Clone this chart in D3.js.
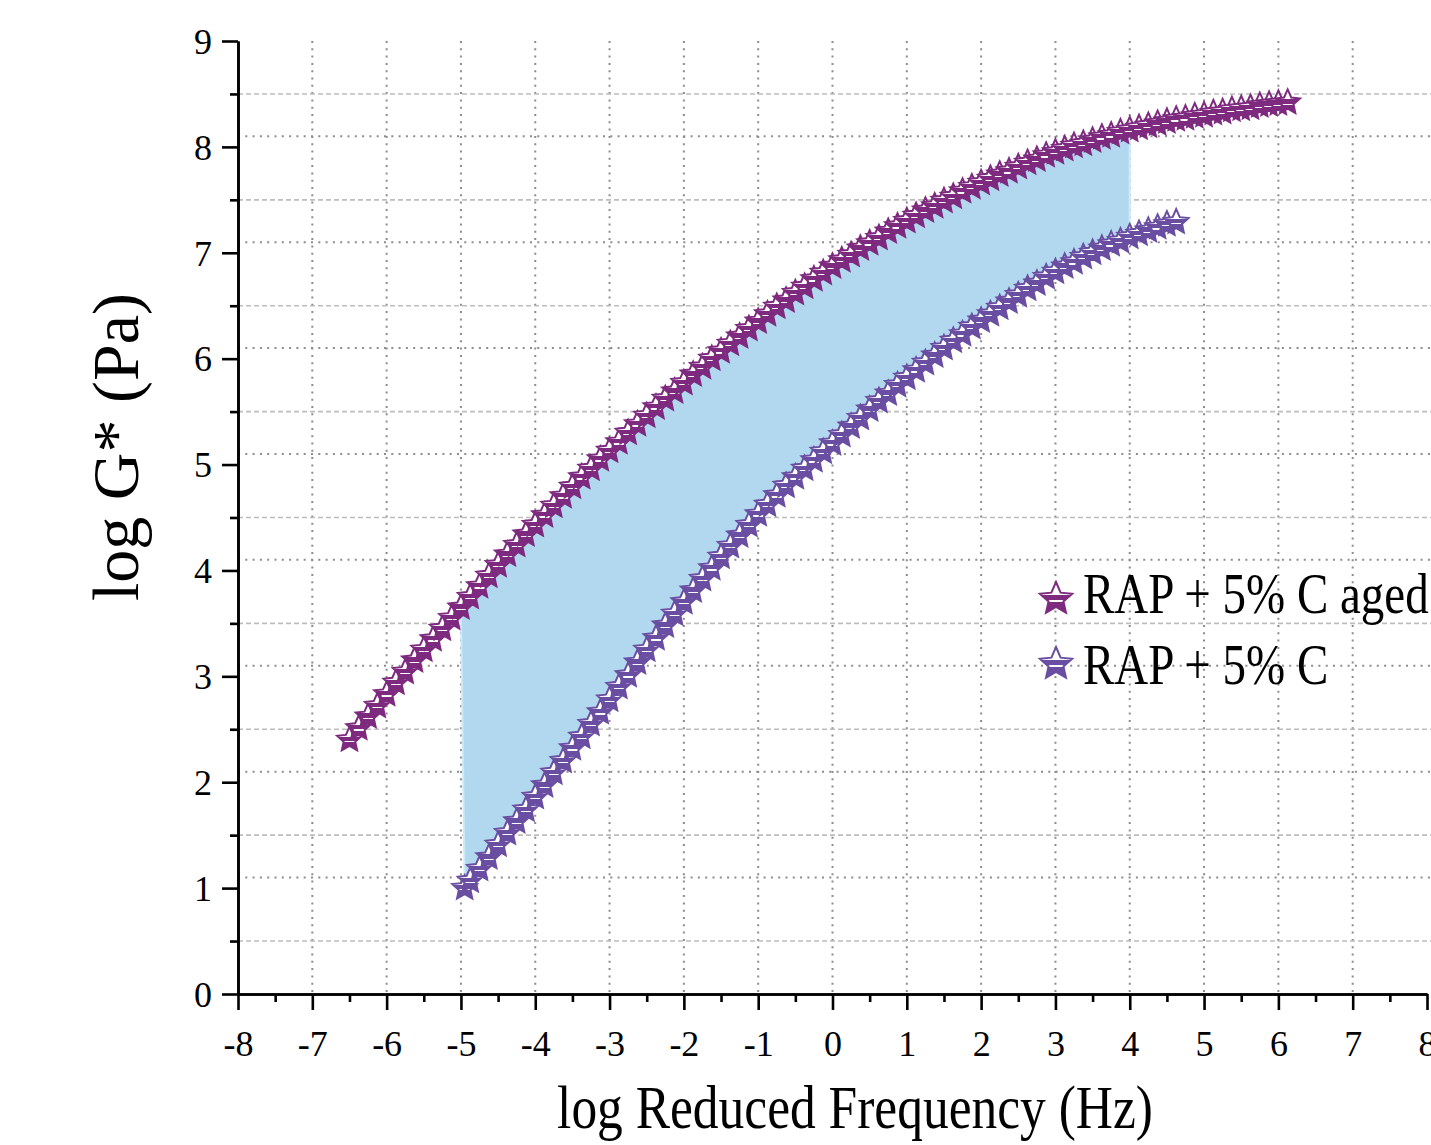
<!DOCTYPE html>
<html>
<head>
<meta charset="utf-8">
<script src="https://cdn.jsdelivr.net/npm/d3@7"></script>
<style>
  body { margin: 0; background: #fff; }
  svg { display: block; }
  text { font-family: "Liberation Serif", "Times New Roman", serif; fill: #000; }
</style>
</head>
<body>
<svg id="chart" width="1431" height="1145"></svg>
<script>
// Master curves: log |G*| against log reduced frequency
const agedX = [-6.5,-6.375,-6.25,-6.125,-6.0,-5.875,-5.75,-5.625,-5.5,-5.375,-5.25,-5.125,
  -5.0,-4.875,-4.75,-4.625,-4.5,-4.375,-4.25,-4.125,-4.0,-3.875,-3.75,-3.625,-3.5,-3.375,
  -3.25,-3.125,-3.0,-2.875,-2.75,-2.625,-2.5,-2.375,-2.25,-2.125,-2.0,-1.875,-1.75,-1.625,
  -1.5,-1.375,-1.25,-1.125,-1.0,-0.875,-0.75,-0.625,-0.5,-0.375,-0.25,-0.125,0.0,0.125,
  0.25,0.375,0.5,0.625,0.75,0.875,1.0,1.125,1.25,1.375,1.5,1.625,1.75,1.875,2.0,2.125,
  2.25,2.375,2.5,2.625,2.75,2.875,3.0,3.125,3.25,3.375,3.5,3.625,3.75,3.875,4.0,4.125,
  4.25,4.375,4.5,4.625,4.75,4.875,5.0,5.125,5.25,5.375,5.5,5.625,5.75,5.875,6.0,6.125];
const agedY = [2.40,2.51,2.62,2.72,2.83,2.94,3.04,3.15,3.25,3.35,3.45,3.55,
  3.65,3.75,3.85,3.95,4.05,4.15,4.24,4.34,4.43,4.52,4.61,4.70,4.79,4.88,
  4.96,5.05,5.13,5.21,5.30,5.38,5.46,5.54,5.62,5.69,5.77,5.85,5.92,6.00,
  6.07,6.14,6.21,6.28,6.35,6.42,6.49,6.55,6.62,6.68,6.75,6.81,6.87,6.93,
  6.98,7.04,7.09,7.14,7.20,7.25,7.30,7.35,7.40,7.44,7.49,7.53,7.58,7.62,7.66,7.70,
  7.74,7.77,7.81,7.85,7.88,7.92,7.95,7.98,8.01,8.03,8.06,8.09,8.11,8.14,8.16,8.18,
  8.20,8.22,8.24,8.26,8.27,8.29,8.30,8.32,8.33,8.35,8.36,8.37,8.39,8.40,8.41,8.42];

const freshX = [-4.95,-4.875,-4.75,-4.625,-4.5,-4.375,-4.25,-4.125,-4.0,-3.875,-3.75,-3.625,
  -3.5,-3.375,-3.25,-3.125,-3.0,-2.875,-2.75,-2.625,-2.5,-2.375,-2.25,-2.125,-2.0,-1.875,
  -1.75,-1.625,-1.5,-1.375,-1.25,-1.125,-1.0,-0.875,-0.75,-0.625,-0.5,-0.375,-0.25,-0.125,
  0.0,0.125,0.25,0.375,0.5,0.625,0.75,0.875,1.0,1.125,1.25,1.375,1.5,1.625,1.75,1.875,
  2.0,2.125,2.25,2.375,2.5,2.625,2.75,2.875,3.0,3.125,3.25,3.375,3.5,3.625,3.75,3.875,
  4.0,4.125,4.25,4.375,4.5,4.625];
const freshY = [1.00,1.07,1.18,1.29,1.41,1.52,1.63,1.74,1.86,1.97,2.09,2.20,
  2.32,2.43,2.55,2.66,2.78,2.90,3.01,3.13,3.25,3.36,3.48,3.59,3.70,3.81,
  3.92,4.02,4.13,4.23,4.33,4.43,4.53,4.62,4.71,4.80,4.88,4.96,5.04,5.12,
  5.20,5.28,5.36,5.44,5.52,5.60,5.67,5.75,5.82,5.89,5.96,6.03,6.10,6.17,6.23,6.30,
  6.36,6.42,6.48,6.54,6.60,6.66,6.71,6.77,6.82,6.87,6.91,6.96,7.00,7.04,7.08,7.11,
  7.15,7.18,7.21,7.24,7.27,7.29];

const seriesNames = ["RAP + 5% C aged", "RAP + 5% C"];
const seriesColors = ["#7d2a7f", "#6a4ea2"];
const xTickValues = [-8,-7,-6,-5,-4,-3,-2,-1,0,1,2,3,4,5,6,7,8];
const yTickValues = [0,1,2,3,4,5,6,7,8,9];
const shadeRange = [-5, 4];          // frequency band that is shaded between curves
const xTitle = "log Reduced Frequency (Hz)";
const yTitle = "log G* (Pa)";

const svg = d3.select("#chart");
const W = 1431;
const x = d3.scaleLinear().domain([-8, 8]).range([238, 1427]);
const y = d3.scaleLinear().domain([0, 9]).range([994, 41]);

const aged = agedX.map((v, i) => [v, agedY[i]]);
const fresh = freshX.map((v, i) => [v, freshY[i]]);

// ---- gridlines ----
const grid = svg.append("g");
grid.selectAll("line.vg").data(xTickValues.filter(v => v > -8 && v < 8)).join("line")
  .attr("x1", d => x(d)).attr("x2", d => x(d))
  .attr("y1", y(9)).attr("y2", y(0))
  .attr("stroke", "#8c8c8c").attr("stroke-width", 2).attr("stroke-dasharray", "2,5.3");
// minor (half-unit) dashed lines
const halfTicks = yTickValues.slice(0, -1).map(v => v + 0.5);
grid.selectAll("line.hm").data(halfTicks).join("line")
  .attr("x1", 230).attr("x2", W)
  .attr("y1", d => y(d)).attr("y2", d => y(d))
  .attr("stroke", "#bdbdbd").attr("stroke-width", 1.6).attr("stroke-dasharray", "5,3");
// major dotted lines, drawn a little above each major value
const majorGridShift = 0.1;
grid.selectAll("line.hM").data(yTickValues.filter(v => v > 0 && v < 9)).join("line")
  .attr("x1", x(-8)).attr("x2", W)
  .attr("y1", d => y(d + majorGridShift)).attr("y2", d => y(d + majorGridShift))
  .attr("stroke", "#8c8c8c").attr("stroke-width", 2).attr("stroke-dasharray", "2,5.3");

// ---- shaded band between the two master curves ----
const inBand = p => p[0] >= shadeRange[0] && p[0] <= shadeRange[1];
const bandPts = aged.filter(inBand).concat(fresh.filter(inBand).reverse());
const line = d3.line().x(d => x(d[0])).y(d => y(d[1]));
svg.append("path")
  .attr("d", line(bandPts) + "Z")
  .attr("fill", "#b2d8f0")
  .attr("stroke", "#cdeaf8").attr("stroke-width", 2);

// ---- star markers ----
function starPath(R, ratio) {
  const r = R * ratio;
  const pts = [];
  for (let k = 0; k < 10; k++) {
    const a = -Math.PI / 2 + k * Math.PI / 5;
    const rad = k % 2 === 0 ? R : r;
    pts.push([rad * Math.cos(a), rad * Math.sin(a)]);
  }
  return "M" + pts.map(p => p[0].toFixed(2) + "," + p[1].toFixed(2)).join("L") + "Z";
}

const defs = svg.append("defs");
seriesColors.forEach((c, i) => {
  const g = defs.append("linearGradient").attr("id", "starFill" + i)
    .attr("x1", 0).attr("y1", 0).attr("x2", 0).attr("y2", 1);
  [[0, "#fff"], [0.42, "#fff"], [0.42, c], [0.6, c], [0.6, "#fff"], [0.65, "#fff"], [0.65, c], [1, c]]
    .forEach(s => g.append("stop").attr("offset", s[0]).attr("stop-color", s[1]));
});

const markerStar = starPath(13, 0.47);
[aged, fresh].forEach((data, i) => {
  svg.append("g").selectAll("path").data(data).join("path")
    .attr("d", markerStar)
    .attr("transform", d => `translate(${x(d[0])},${y(d[1])})`)
    .attr("fill", `url(#starFill${i})`)
    .attr("stroke", seriesColors[i]).attr("stroke-width", 2)
    .attr("stroke-linejoin", "miter");
});

// ---- axes ----
const axisFont = 36;
const xAxis = svg.append("g").attr("transform", `translate(0,${y(0)})`)
  .call(d3.axisBottom(x).tickValues(xTickValues).tickFormat(d => String(d))
    .tickSize(16).tickSizeOuter(0).tickPadding(20));
const xMinor = svg.append("g").attr("transform", `translate(0,${y(0)})`)
  .call(d3.axisBottom(x).tickValues(xTickValues.slice(0, -1).map(v => v + 0.5))
    .tickFormat("").tickSize(8).tickSizeOuter(0));
const yAxis = svg.append("g").attr("transform", `translate(${x(-8)},0)`)
  .call(d3.axisLeft(y).tickValues(yTickValues).tickFormat(d => String(d))
    .tickSize(16).tickSizeOuter(0).tickPadding(10));
const yMinor = svg.append("g").attr("transform", `translate(${x(-8)},0)`)
  .call(d3.axisLeft(y).tickValues(halfTicks).tickFormat("").tickSize(8).tickSizeOuter(0));

[xAxis, xMinor, yAxis, yMinor].forEach(g => {
  g.select(".domain").attr("stroke", "#000").attr("stroke-width", 2.6);
  g.selectAll(".tick line").attr("stroke", "#000").attr("stroke-width", 2.6);
  g.selectAll(".tick text").attr("font-size", axisFont)
    .attr("font-family", "'Liberation Serif', 'Times New Roman', serif").attr("fill", "#000");
});
yAxis.selectAll(".tick text").attr("dy", "0.34em");

// ---- axis titles ----
svg.append("text")
  .attr("transform", `translate(855,1128) scale(0.83,1)`)
  .attr("text-anchor", "middle").attr("font-size", 62)
  .text(xTitle);
svg.append("text")
  .attr("transform", `translate(138,447) rotate(-90)`)
  .attr("text-anchor", "middle").attr("font-size", 66)
  .text(yTitle);

// ---- legend ----
const legendStar = starPath(17, 0.46);
const legendRows = [{ sy: 599, ty: 613 }, { sy: 664, ty: 684 }];
seriesNames.forEach((name, i) => {
  svg.append("path").attr("d", legendStar)
    .attr("transform", `translate(1056,${legendRows[i].sy})`)
    .attr("fill", `url(#starFill${i})`)
    .attr("stroke", seriesColors[i]).attr("stroke-width", 2);
  svg.append("text")
    .attr("transform", `translate(1083,${legendRows[i].ty}) scale(0.81,1)`)
    .attr("font-size", 58)
    .text(name);
});
</script>
</body>
</html>
